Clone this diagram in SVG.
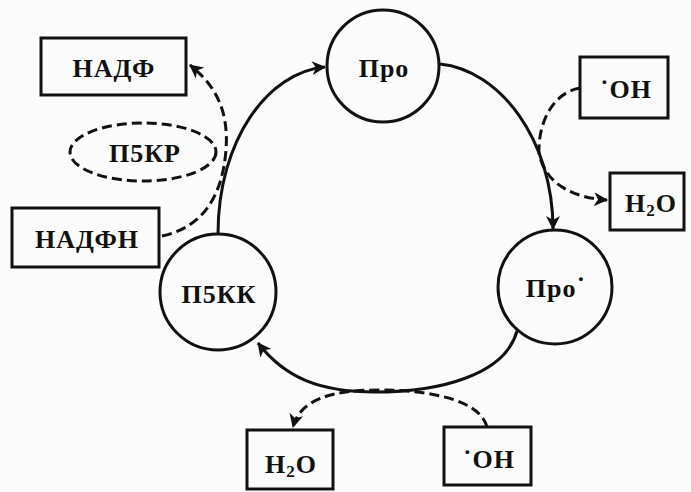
<svg xmlns="http://www.w3.org/2000/svg" width="691" height="492" viewBox="0 0 691 492">
<defs>
<marker id="ah" viewBox="0 0 14 14" refX="13" refY="7" markerWidth="14" markerHeight="14" markerUnits="userSpaceOnUse" orient="auto">
<path d="M0,0 L14,7 L0,14 L4,7 Z" fill="#111"/>
</marker>
<style>
.n{fill:none;stroke:#111;stroke-width:3}
.d{fill:none;stroke:#111;stroke-width:3;stroke-dasharray:10 5}
.c{fill:none;stroke:#111;stroke-width:3}
text{font-family:"Liberation Serif","DejaVu Serif","Times New Roman",serif;font-weight:bold;font-size:26px;letter-spacing:1px;fill:#111;text-anchor:middle}
.s{font-size:17px}
</style>
</defs>
<rect width="691" height="492" fill="#fbfbfb"/>
<g id="connectors">
<path class="c" d="M218,234 C218,140 268,72 325,67" marker-end="url(#ah)"/>
<path class="c" d="M440,64 C500,70 553,140 553,229" marker-end="url(#ah)"/>
<path class="c" d="M517,331 C505,375 440,392 375,392 C320,392 285,378 258,343" marker-end="url(#ah)"/>
<path class="d" d="M487,427 C480,400 430,390 380,390 C330,390 300,400 293,427" marker-end="url(#ah)"/>
<path class="d" d="M580,88 C555,92 538,120 539,153 C545,185 575,198 607,200" marker-end="url(#ah)"/>
<path class="d" d="M162,236 C200,228 222,200 226,150 C229,110 215,85 190,65" marker-end="url(#ah)"/>
</g>
<g id="nadf"><rect class="n" x="41" y="38" width="145" height="57"/><text x="114" y="77">НАДФ</text></g>
<g id="p5kr"><ellipse class="d" cx="143" cy="152" rx="73" ry="29"/><text x="145" y="162">П5КР</text></g>
<g id="nadfn"><rect class="n" x="12" y="208" width="147" height="59"/><text x="87" y="248">НАДФН</text></g>
<g id="pro"><circle class="n" cx="383" cy="66" r="56"/><text x="384" y="77">Про</text></g>
<g id="pro-rad"><circle class="n" cx="555" cy="287" r="57"/><text x="556" y="297">Про<tspan dy="-2">˙</tspan></text></g>
<g id="p5kk"><circle class="n" cx="218" cy="292" r="58"/><text x="219" y="303">П5КК</text></g>
<g id="oh-top"><rect class="n" x="580" y="57" width="88" height="61"/><text x="626" y="98">˙OH</text></g>
<g id="h2o-right"><rect class="n" x="610" y="173" width="74" height="57"/><text x="651" y="212">H<tspan class="s" dy="4">2</tspan><tspan dy="-4">O</tspan></text></g>
<g id="h2o-bottom"><rect class="n" x="247" y="430" width="86" height="59"/><text x="291" y="473">H<tspan class="s" dy="4">2</tspan><tspan dy="-4">O</tspan></text></g>
<g id="oh-bottom"><rect class="n" x="444" y="427" width="87" height="58"/><text x="489" y="468">˙OH</text></g>
</svg>
